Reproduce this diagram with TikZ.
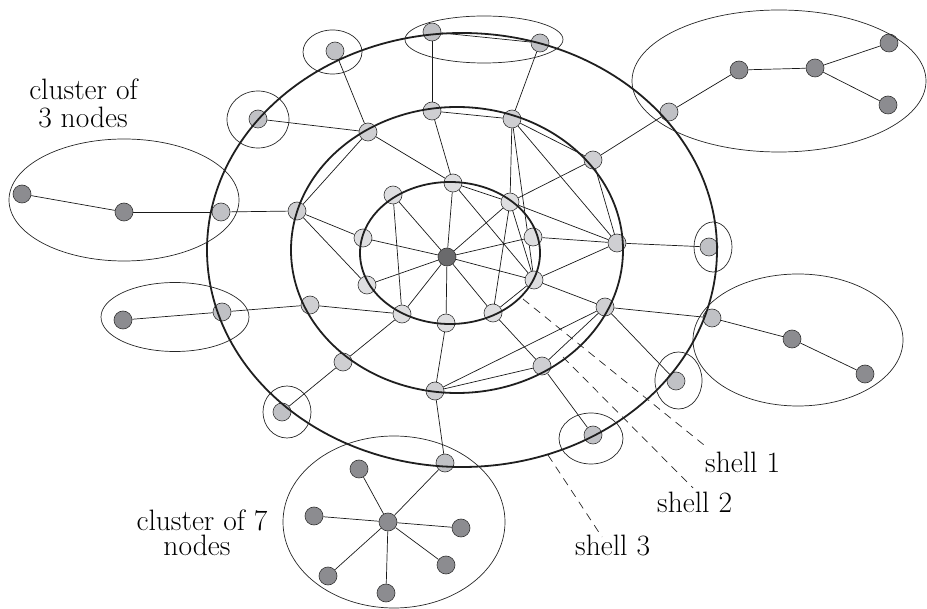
\documentclass[tikz,border=0pt]{standalone}
\usetikzlibrary{backgrounds}
\definecolor{innerc}{HTML}{DEDEE0}
\definecolor{midc}{HTML}{CFCFD2}
\definecolor{outc}{HTML}{C0C1C5}
\definecolor{clc}{HTML}{8C8C90}
\definecolor{cenc}{HTML}{6A6A6C}
\begin{document}
\begin{tikzpicture}[x=1pt,y=-1pt,
  vtx/.style={circle,draw=black!80,line width=0.6pt,minimum size=18pt,inner sep=0pt},
  sone/.style={vtx,fill=innerc},
  stwo/.style={vtx,fill=midc},
  sthree/.style={vtx,fill=outc},
  clnode/.style={vtx,fill=clc},
  cennode/.style={vtx,fill=cenc},
  edge/.style={line width=0.7pt,black!90},
  shell/.style={line width=1.8pt,black!88},
  ring/.style={line width=0.7pt,black!85},
  guide/.style={line width=0.7pt,black!85,dash pattern=on 8pt off 6pt},
  lab/.style={font=\fontsize{29.5}{31}\selectfont,inner sep=0pt}]
\useasboundingbox (0,0) rectangle (927,609);
% centre and shell 1
\node[cennode] (C) at (447,257) {};
\node[sone] (a1) at (453,183) {};
\node[sone] (a2) at (393,195) {};
\node[sone] (a3) at (363,238) {};
\node[sone] (a4) at (367,285) {};
\node[sone] (a5) at (402,314) {};
\node[sone] (a6) at (446,323) {};
\node[sone] (a7) at (493,313) {};
\node[sone] (a8) at (534,280) {};
\node[sone] (a9) at (533,237) {};
\node[sone] (a10) at (510,202) {};
% shell 2
\node[stwo] (b1) at (432,111) {};
\node[stwo] (b2) at (512,119) {};
\node[stwo] (b3) at (368,132) {};
\node[stwo] (b4) at (593,160) {};
\node[stwo] (b5) at (297,211) {};
\node[stwo] (b6) at (617,243) {};
\node[stwo] (b7) at (310,305) {};
\node[stwo] (b8) at (605,307) {};
\node[stwo] (b9) at (343,362) {};
\node[stwo] (b10) at (542,366) {};
\node[stwo] (b11) at (435,391) {};
% shell 3
\node[sthree] (c1) at (432,32) {};
\node[sthree] (c2) at (540,43) {};
\node[sthree] (c3) at (335,51) {};
\node[sthree] (c4) at (258,119) {};
\node[sthree] (c5) at (221,212) {};
\node[sthree] (c6) at (222,312) {};
\node[sthree] (c7) at (282,412) {};
\node[sthree] (c8) at (445,463) {};
\node[sthree] (c9) at (593,435) {};
\node[sthree] (c10) at (676,381) {};
\node[sthree] (c11) at (712,318) {};
\node[sthree] (c12) at (709,247) {};
\node[sthree] (c13) at (669,112) {};
% clusters
\node[clnode] (d1) at (22,194) {};
\node[clnode] (d2) at (124,212) {};
\node[clnode] (d3) at (123,320) {};
\node[clnode] (e0) at (388,522) {};
\node[clnode] (e1) at (359,469) {};
\node[clnode] (e2) at (314,516) {};
\node[clnode] (e3) at (461,528) {};
\node[clnode] (e4) at (446,565) {};
\node[clnode] (e5) at (328,576) {};
\node[clnode] (e6) at (386,593) {};
\node[clnode] (f1) at (792,339) {};
\node[clnode] (f2) at (865,374) {};
\node[clnode] (g1) at (739,70) {};
\node[clnode] (g2) at (815,68) {};
\node[clnode] (g3) at (889,43) {};
\node[clnode] (g4) at (888,105) {};
\begin{pgfonlayer}{background}
% spokes
\foreach \n in {a1,a2,a3,a4,a5,a6,a7,a8,a9,a10} \draw[edge] (C) -- (\n);
\draw[edge] (a2) -- (a5);
\draw[edge] (a10) -- (a7);
\draw[edge] (a10) -- (a8);
\draw[edge] (a1) -- (a10);
\draw[edge] (a1) -- (a8);
\draw[edge] (a7) -- (a8);
% shell 2 links
\draw[edge] (b1) -- (a1);
\draw[edge] (b3) -- (a1);
\draw[edge] (b1) -- (b2);
\draw[edge] (b2) -- (a10);
\draw[edge] (b2) -- (a8);
\draw[edge] (b2) -- (b4);
\draw[edge] (b2) -- (b6);
\draw[edge] (b3) -- (b5);
\draw[edge] (b4) -- (a10);
\draw[edge] (b4) -- (b6);
\draw[edge] (b5) -- (a3);
\draw[edge] (b5) -- (a4);
\draw[edge] (b6) -- (a10);
\draw[edge] (b6) -- (a9);
\draw[edge] (b6) -- (a8);
\draw[edge] (b7) -- (a5);
\draw[edge] (b9) -- (a5);
\draw[edge] (b11) -- (a6);
\draw[edge] (b10) -- (a7);
\draw[edge] (b8) -- (a8);
\draw[edge] (b8) -- (b11);
\draw[edge] (b8) -- (b10);
\draw[edge] (b10) -- (b11);
% shell 3 links
\draw[edge] (c1) -- (b1);
\draw[edge] (c2) -- (b2);
\draw[edge] (c1) -- (c2);
\draw[edge] (c3) -- (b3);
\draw[edge] (c4) -- (b3);
\draw[edge] (c5) -- (b5);
\draw[edge] (c6) -- (b7);
\draw[edge] (c7) -- (b9);
\draw[edge] (c8) -- (b11);
\draw[edge] (c9) -- (b10);
\draw[edge] (c10) -- (b8);
\draw[edge] (c11) -- (b8);
\draw[edge] (c12) -- (b6);
\draw[edge] (c13) -- (b4);
% cluster links
\draw[edge] (d1) -- (d2);
\draw[edge] (d2) -- (c5);
\draw[edge] (d3) -- (c6);
\draw[edge] (e0) -- (c8);
\foreach \n in {e1,e2,e3,e4,e5,e6} \draw[edge] (e0) -- (\n);
\draw[edge] (f1) -- (c11);
\draw[edge] (f1) -- (f2);
\draw[edge] (g1) -- (c13);
\draw[edge] (g1) -- (g2);
\draw[edge] (g2) -- (g3);
\draw[edge] (g2) -- (g4);
\end{pgfonlayer}
% shells
\draw[shell] (450,253) ellipse [x radius=90pt, y radius=71pt];
\draw[shell] (457,250) ellipse [x radius=166pt, y radius=143pt];
\draw[shell] (462,250) ellipse [x radius=255pt, y radius=217pt];
% cluster rings
\draw[ring] (484,39.5) ellipse [x radius=79pt, y radius=23.5pt];
\draw[ring] (332.5,52) ellipse [x radius=29.5pt, y radius=22pt];
\draw[ring] (258,119.5) ellipse [x radius=31pt, y radius=28.5pt];
\draw[ring] (124,200) ellipse [x radius=115pt, y radius=61pt];
\draw[ring] (175,317) ellipse [x radius=74pt, y radius=34.5pt];
\draw[ring] (287,412) ellipse [x radius=24pt, y radius=26pt];
\draw[ring] (394,522) ellipse [x radius=111pt, y radius=86pt];
\draw[ring] (591,438.5) ellipse [x radius=32pt, y radius=25.5pt];
\draw[ring] (678.5,380.5) ellipse [x radius=23.5pt, y radius=28.5pt];
\draw[ring] (798,340) ellipse [x radius=105pt, y radius=66pt];
\draw[ring] (713,247) ellipse [x radius=19pt, y radius=25pt];
\draw[ring] (779,81) ellipse [x radius=147pt, y radius=71pt];
% shell guides
\coordinate (g1s) at (523,299);
\coordinate (g1e) at (704,445);
\coordinate (g2s) at (563,357);
\coordinate (g2e) at (693,488);
\coordinate (g3s) at (548,455);
\coordinate (g3e) at (602,537);
\draw[guide] (g1s) -- (g1e);
\draw[guide] (g2s) -- (g2e);
\draw[guide] (g3s) -- (g3e);
% labels
\node[lab,anchor=base] (l1a) at (83.5,100) {cluster of};
\node[lab,anchor=base] (l1b) at (83,128) {3 nodes};
\node[lab,anchor=base] (l2a) at (202,530) {cluster of 7};
\node[lab,anchor=base] (l2b) at (197,555) {nodes};
\node[lab,anchor=base west] (s1) at (705,473) {shell 1};
\node[lab,anchor=base west] (s2) at (657,512) {shell 2};
\node[lab,anchor=base west] (s3) at (575,555) {shell 3};
\end{tikzpicture}
\end{document}
